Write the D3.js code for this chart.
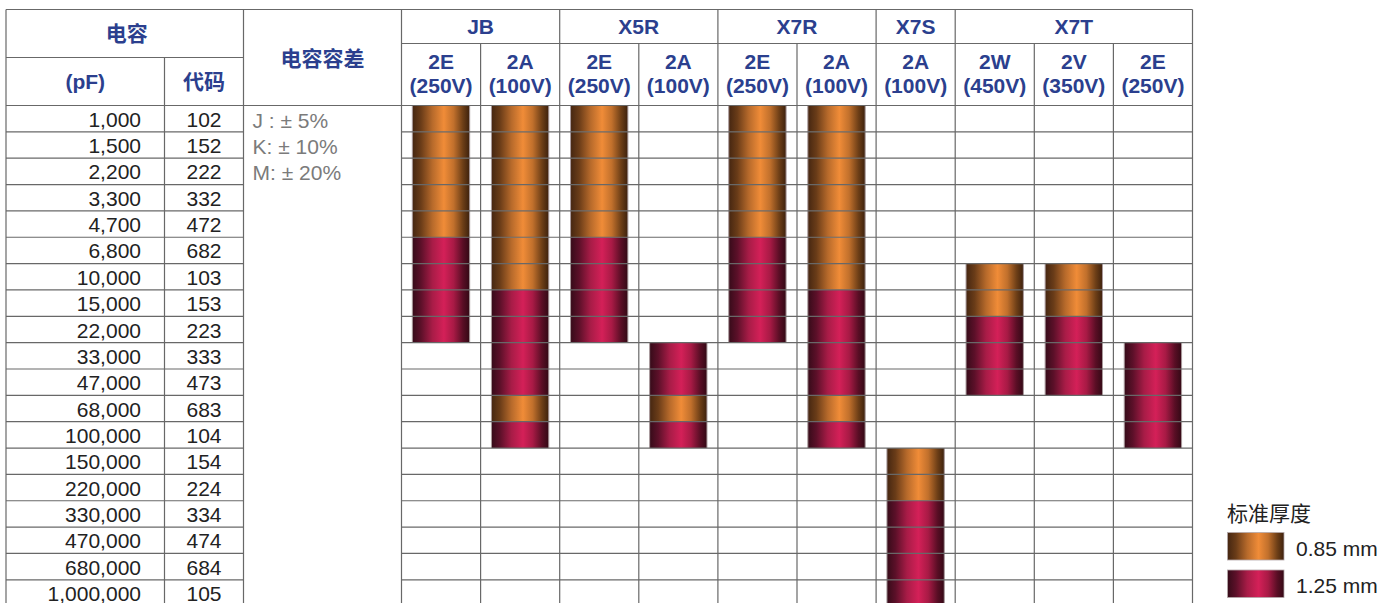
<!DOCTYPE html>
<html><head><meta charset="utf-8">
<script src="https://cdn.jsdelivr.net/npm/d3@7"></script>
<style>
html,body{margin:0;padding:0;background:#fff;overflow:hidden}
text{font-family:"Liberation Sans",Arial,"Noto Sans CJK SC",sans-serif}
</style></head>
<body><svg id="c" width="1398" height="603"></svg>
<script>
// ---------- data ----------
const capacitance = ["1,000","1,500","2,200","3,300","4,700","6,800","10,000","15,000","22,000","33,000","47,000","68,000","100,000","150,000","220,000","330,000","470,000","680,000","1,000,000"];
const codes = ["102","152","222","332","472","682","103","153","223","333","473","683","104","154","224","334","474","684","105"];
const tolerances = ["J : ± 5%","K: ± 10%","M: ± 20%"];
const groups = ["JB","X5R","X7R","X7S","X7T"];
const columnGroup = ["JB","JB","X5R","X5R","X7R","X7R","X7S","X7T","X7T","X7T"];
const columnCode = ["2E","2A","2E","2A","2E","2A","2A","2W","2V","2E"];
const columnVoltage = ["(250V)","(100V)","(250V)","(100V)","(250V)","(100V)","(100V)","(450V)","(350V)","(250V)"];
const thicknessLegend = ["0.85 mm","1.25 mm"];
// thickness (mm) per capacitance row, null = not available
const _ = null, a = 0.85, b = 1.25;
const JB_2E  = [a,a,a,a,a,b,b,b,b,_,_,_,_,_,_,_,_,_,_];
const JB_2A  = [a,a,a,a,a,a,a,b,b,b,b,a,b,_,_,_,_,_,_];
const X5R_2E = [a,a,a,a,a,b,b,b,b,_,_,_,_,_,_,_,_,_,_];
const X5R_2A = [_,_,_,_,_,_,_,_,_,b,b,a,b,_,_,_,_,_,_];
const X7R_2E = [a,a,a,a,a,b,b,b,b,_,_,_,_,_,_,_,_,_,_];
const X7R_2A = [a,a,a,a,a,a,a,b,b,b,b,a,b,_,_,_,_,_,_];
const X7S_2A = [_,_,_,_,_,_,_,_,_,_,_,_,_,a,a,b,b,b,b];
const X7T_2W = [_,_,_,_,_,_,a,a,b,b,b,_,_,_,_,_,_,_,_];
const X7T_2V = [_,_,_,_,_,_,a,a,b,b,b,_,_,_,_,_,_,_,_];
const X7T_2E = [_,_,_,_,_,_,_,_,_,b,b,b,b,_,_,_,_,_,_];
const series = [JB_2E,JB_2A,X5R_2E,X5R_2A,X7R_2E,X7R_2A,X7S_2A,X7T_2W,X7T_2V,X7T_2E];

// ---------- layout ----------
const svg = d3.select("#c");
const blue = "#2b3f8e", grid = "#686868";
const L = 6, xCode = 164.5, xTol = 243.5, xData0 = 401.5, xData1 = 1192.5;
const yTop = 9.5, yMid = 57.5, yGrp = 43.5, yHead = 105.5, rowH = 26.35;

const colIdx = d3.range(columnCode.length);
const x = d3.scaleBand().domain(colIdx).range([xData0, xData1]);
const y = d3.scaleBand().domain(capacitance).range([yHead, yHead + rowH * capacitance.length]);

const defs = svg.append("defs");
function grad(id, stops){
  const g = defs.append("linearGradient").attr("id", id).attr("x1","0").attr("x2","1").attr("y1","0").attr("y2","0");
  stops.forEach(s => g.append("stop").attr("offset", s[0]).attr("stop-color", s[1]));
}
grad("g085", [[0,"#452611"],[0.15,"#6a3c18"],[0.35,"#b76a2b"],[0.55,"#f08c38"],[0.72,"#c1702c"],[0.88,"#6e3f17"],[1,"#3d210d"]]);
grad("g125", [[0,"#360b19"],[0.15,"#5c1029"],[0.35,"#a81c47"],[0.55,"#d42058"],[0.72,"#a81a45"],[0.88,"#5a0e25"],[1,"#330915"]]);
const fillOf = t => t === 0.85 ? "url(#g085)" : "url(#g125)";

// ---------- cylinders ----------
const cells = [];
series.forEach((s, c) => s.forEach((t, r) => { if (t !== null) cells.push({c, r, t}); }));
const bw = x.bandwidth();
svg.append("g").selectAll("rect").data(cells).join("rect")
  .attr("x", d => x(d.c) + bw * 0.137)
  .attr("width", bw * 0.725)
  .attr("y", d => y(capacitance[d.r]))
  .attr("height", y.bandwidth())
  .attr("fill", d => fillOf(d.t));
// side outlines
svg.append("g").selectAll("path").data(cells).join("path")
  .attr("d", d => {
    const x0 = x(d.c) + bw * 0.137, x1 = x0 + bw * 0.725, y0 = y(capacitance[d.r]), y1 = y0 + y.bandwidth();
    return `M${x0},${y0}V${y1}M${x1},${y0}V${y1}`;
  })
  .attr("stroke", "#a99a9c").attr("stroke-width", 1).attr("fill", "none");

// ---------- grid ----------
const gl = svg.append("g").attr("stroke", grid).attr("stroke-width", 1.2).attr("fill","none");
const bottom = 610;
function hl(x0, x1, yy){ gl.append("line").attr("x1",x0).attr("x2",x1).attr("y1",yy).attr("y2",yy); }
function vl(xx, y0, y1){ gl.append("line").attr("x1",xx).attr("x2",xx).attr("y1",y0).attr("y2",y1); }
hl(L, xData1, yTop);
hl(L, xTol, yMid);
hl(xData0, xData1, yGrp);
hl(L, xData1, yHead);
capacitance.forEach((cap, i) => { if (i > 0) { hl(L, xTol, y(cap)); hl(xData0, xData1, y(cap)); } });
vl(L, yTop, bottom); vl(xCode, yMid, bottom); vl(xTol, yTop, bottom); vl(xData0, yTop, bottom); vl(xData1, yTop, bottom);
colIdx.forEach(c => {
  if (c === 0) return;
  const newGroup = columnGroup[c] !== columnGroup[c-1];
  vl(x(c), newGroup ? yTop : yGrp, bottom);
});

// ---------- header text ----------
const ht = svg.append("g").attr("fill", blue).attr("font-weight","bold").attr("font-size", 21).attr("text-anchor","middle");
ht.append("text").attr("x", (L + xTol)/2 + 2).attr("y", 41).text("电容");
ht.append("text").attr("x", (L + xCode)/2).attr("y", 89).text("(pF)");
ht.append("text").attr("x", (xCode + xTol)/2).attr("y", 89).text("代码");
ht.append("text").attr("x", (xTol + xData0)/2).attr("y", 66).text("电容容差");
groups.forEach(g => {
  const cs = colIdx.filter(c => columnGroup[c] === g);
  const x0 = x(cs[0]), x1 = x(cs[cs.length-1]) + bw;
  ht.append("text").attr("x", (x0 + x1)/2).attr("y", 34).text(g);
});
colIdx.forEach(c => {
  ht.append("text").attr("x", x(c) + bw/2).attr("y", 68.5).text(columnCode[c]);
  ht.append("text").attr("x", x(c) + bw/2).attr("y", 93).text(columnVoltage[c]);
});

// ---------- row text ----------
const rt = svg.append("g").attr("fill", "#222").attr("font-size", 21);
rt.selectAll("text.cap").data(capacitance).join("text").attr("class","cap")
  .attr("x", 141).attr("y", d => y(d) + 21.2).attr("text-anchor","end").text(d => d);
rt.selectAll("text.code").data(codes).join("text").attr("class","code")
  .attr("x", (xCode + xTol)/2).attr("y", (d,i) => y(capacitance[i]) + 21.2).attr("text-anchor","middle").text(d => d);
svg.append("g").attr("fill","#7b7b7b").attr("font-size",21)
  .selectAll("text").data(tolerances).join("text")
  .attr("x", 252.5).attr("y", (d,i) => 128.3 + i*26).text(d => d);

// ---------- legend ----------
const lg = svg.append("g");
lg.append("text").attr("x", 1227).attr("y", 521).attr("font-size", 21).attr("fill","#222").text("标准厚度");
const legendThk = [0.85, 1.25];
legendThk.forEach((t, i) => {
  const yy = 532.5 + i * 37.5;
  lg.append("rect").attr("x", 1227.5).attr("y", yy).attr("width", 56.5).attr("height", 27.5)
    .attr("fill", fillOf(t)).attr("stroke","#b4a8aa").attr("stroke-width",0.8);
  lg.append("text").attr("x", 1296).attr("y", yy + 23).attr("font-size", 21).attr("fill","#222").text(thicknessLegend[i]);
});
</script></body></html>
